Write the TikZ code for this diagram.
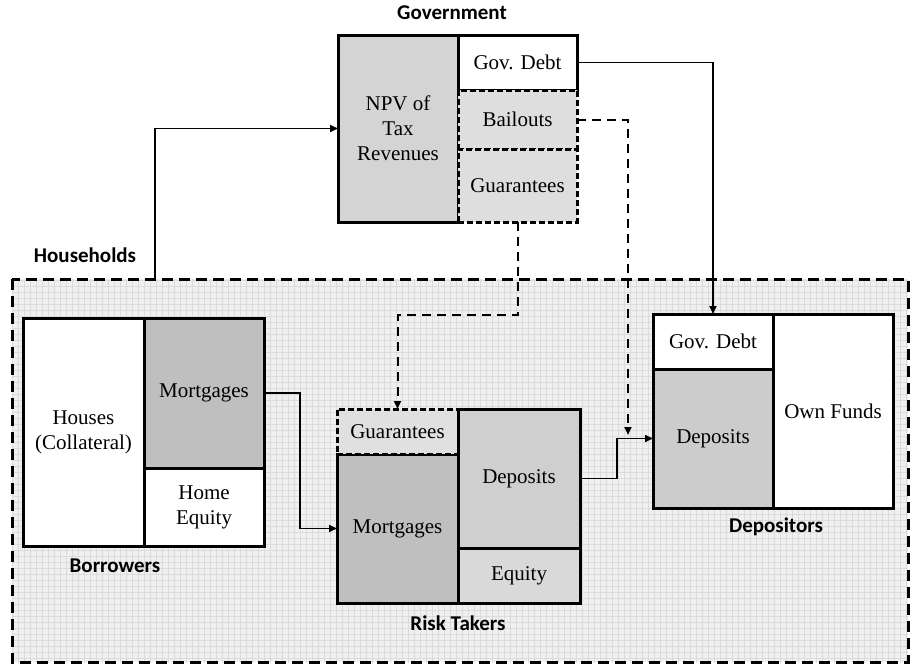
\documentclass[tikz,border=0pt]{standalone}
\usepackage{fontspec}
\setmainfont{Liberation Serif}
\newfontfamily\lblfont{Carlito}
\usetikzlibrary{arrows.meta,patterns}

\begin{document}
\begin{tikzpicture}[x=0.5pt,y=-0.5pt,
        cell/.style={draw,line width=1.5pt,inner sep=0pt,outer sep=0pt,align=center,
            font=\fontsize{10.5}{12.5}\selectfont},
        dcell/.style={cell,dash pattern=on 3pt off 1.5pt},
        sector/.style={font=\lblfont\bfseries\fontsize{10.5}{12}\selectfont},
        flow/.style={line width=0.9pt,-{Triangle[length=4pt,width=3.5pt]}},
        dflow/.style={flow,line width=1pt,dash pattern=on 4.5pt off 3pt}]
    \useasboundingbox (0,0) rectangle (912,664);
    % households background
    \fill[black!6] (12,279) rectangle (908,662);
    \fill[pattern=grid,pattern color=black!14] (12,279) rectangle (908,662);
    \draw[line width=1.5pt,dash pattern=on 5.5pt off 3pt] (12,279) rectangle (908,662);
    \node[sector] (hhlabel) at (85,255) {Households};
    \coordinate (hhtap) at (155,279);

    % government
    \node[sector] (govlabel) at (452,13) {Government};
    \node[cell,fill=black!17,minimum width=60pt,minimum height=93.5pt] (npv) at (398,128.5) {NPV of\\Tax\\Revenues};
    \node[cell,fill=white,minimum width=59.5pt,minimum height=27.5pt] (gdebt) at (517.5,62.5) {Gov. Debt};
    \node[dcell,fill=black!13,minimum width=59.5pt,minimum height=29.5pt] (bail) at (517.5,119.5) {Bailouts};
    \node[dcell,fill=black!13,minimum width=59.5pt,minimum height=36.5pt] (gguar) at (517.5,185.5) {Guarantees};

    % borrowers
    \node[cell,fill=white,minimum width=60.5pt,minimum height=114pt] (houses) at (83.5,432) {Houses\\(Collateral)};
    \node[cell,fill=black!25,minimum width=60pt,minimum height=75pt] (bmort) at (204,393) {Mortgages};
    \node[cell,fill=white,minimum width=60pt,minimum height=39pt] (hequity) at (204,507) {Home\\Equity};
    \node[sector] (borlabel) at (115,566) {Borrowers};

    % risk takers
    \node[cell,fill=black!25,minimum width=60.5pt,minimum height=74.5pt] (rmort) at (397.5,528.5) {Mortgages};
    \node[dcell,fill=black!12,minimum width=60.5pt,minimum height=22.5pt] (rguar) at (397.5,431.5) {Guarantees};
    \node[cell,fill=black!19,minimum width=61pt,minimum height=69.5pt] (rdep) at (519,478.5) {Deposits};
    \node[cell,fill=black!15,minimum width=61pt,minimum height=27.5pt] (requity) at (519,575.5) {Equity};
    \node[sector] (rtlabel) at (458,623) {Risk Takers};

    % depositors
    \node[cell,fill=white,minimum width=60pt,minimum height=27.5pt] (ddebt) at (713,341.5) {Gov. Debt};
    \node[cell,fill=black!20,minimum width=60pt,minimum height=69.5pt] (ddep) at (713,438.5) {Deposits};
    \node[cell,fill=white,minimum width=60pt,minimum height=97pt] (own) at (833,411) {Own Funds};
    \node[sector] (deplabel) at (776,527) {Depositors};
    \coordinate (bailend) at (628,435);

    % flows
    \draw[flow] (hhtap) |- (npv.west);
    \draw[flow] (gdebt.east) -| (ddebt.north);
    \draw[dflow] (bail.east) -| (bailend);
    \draw[dflow] (gguar.south) -- ++(0,93) -| (rguar.north);
    \draw[flow] (bmort.east) -- ++(36,0) |- (rmort.west);
    \draw[flow] (rdep.east) -- ++(37,0) |- (ddep.west);
\end{tikzpicture}
\end{document}
